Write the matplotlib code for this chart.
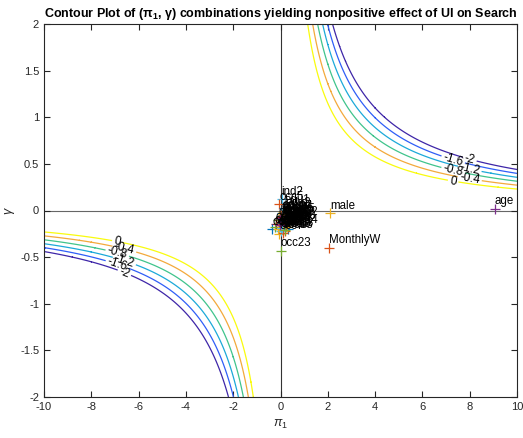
import numpy as np
import matplotlib
matplotlib.use("Agg")
import matplotlib.pyplot as plt

plt.rcParams["font.family"] = ["Liberation Sans", "DejaVu Sans"]
plt.rcParams["mathtext.fontset"] = "custom"
plt.rcParams["mathtext.rm"] = "Liberation Sans"
plt.rcParams["mathtext.it"] = "Liberation Sans:italic"
plt.rcParams["mathtext.bf"] = "Liberation Sans:bold"
plt.rcParams["axes.unicode_minus"] = False

# ---- data ----
levels = [-2.0, -1.6, -1.2, -0.8, -0.4, 0.0]
level_colors = ["#3e26a8", "#2f5ef7", "#1ca9d9", "#40c48c", "#f3a93c", "#f9fb0e"]
offset = 2.3      # pi1*gamma at the zero level
scale = 1.05      # pi1*gamma change per unit level

names = ["age", "MonthlyW", "male", "occ23", "ind2", "occ5", "edu1", "edu2", "edu3",
         "ind1", "ind3", "ind4", "ind5", "ind6", "ind7", "ind8", "ind9",
         "occ1", "occ2", "occ3", "occ4", "occ6", "occ7", "occ8", "occ9",
         "occ10", "occ11", "occ12", "occ13", "occ14", "occ15", "occ16", "occ17",
         "occ18", "occ19", "occ20", "occ21", "occ22", "edu4", "ind10",
         "ind11", "ind12", "edu5", "occ24", "occ25", "ind13"]
pi1 = [9.05, 2.05, 2.1, 0.0, 0.05, -0.05, 0.15, 0.2, 0.1,
       0.1, 0.25, 0.3, 0.15, 0.2, 0.05, 0.0, 0.25,
       -0.1, 0.05, 0.12, 0.3, 0.18, -0.05, 0.08, 0.22,
       0.0, -0.2, -0.35, 0.1, 0.28, 0.15, -0.25, 0.05,
       0.2, 0.12, 0.0, -0.1, 0.3, 0.18, 0.08,
       0.02, 0.15, 0.25, 0.1, -0.02, 0.2]
gamma = [0.02, -0.40, -0.03, -0.43, 0.12, 0.07, 0.03, 0.0, -0.02,
         -0.05, -0.08, -0.1, -0.12, -0.15, -0.18, -0.2, -0.05,
         -0.1, -0.13, -0.17, -0.2, -0.22, -0.25, -0.08, -0.12,
         -0.22, -0.15, -0.2, -0.24, -0.18, -0.06, -0.18, -0.03,
         -0.14, -0.09, -0.12, -0.2, -0.1, -0.16, -0.19,
         -0.07, -0.11, -0.14, -0.04, -0.16, -0.21]

matlab_colors = ["#0072bd", "#d95319", "#edb120", "#7e2f8e", "#77ac30", "#4dbeee", "#a2142f"]
point_colors = ["#7e2f8e", "#d95319", "#edb120", "#77ac30", "#4dbeee", "#d95319"] + \
    [matlab_colors[i % 7] for i in range(len(names) - 6)]

# ---- figure ----
fig = plt.figure(figsize=(5.23, 4.38), dpi=100)
ax = fig.add_axes([44/523, 41/438, 473/523, 373/438])

xs = np.linspace(-10, 10, 801)
ys = np.linspace(-2, 2, 801)
X, Y = np.meshgrid(xs, ys)
Z = (offset - X * Y) / scale
cs = ax.contour(X, Y, Z, levels=levels, colors=level_colors, linewidths=0.9)

manual = []
for lv, xr, xl in zip(levels, [8.0, 7.3, 8.0, 7.3, 8.0, 7.3], [-6.6, -6.9, -6.6, -6.9, -6.6, -6.9]):
    p = offset - lv * scale
    manual.append((xr, p / xr))
    manual.append((xl, p / xl))
ax.clabel(cs, levels=levels, inline=True, fontsize=8.5, fmt=lambda v: f"{v:g}",
          manual=manual, colors="black", inline_spacing=2)

ax.axhline(0, color="#666666", lw=0.8, zorder=1)
ax.axvline(0, color="#333333", lw=0.8, zorder=1)

for n, x, y, c in zip(names, pi1, gamma, point_colors):
    ax.plot(x, y, "+", color=c, ms=7, mew=0.9, zorder=3)
    ax.text(x, y + 0.015, n, fontsize=8.3, ha="left", va="bottom", color="black", zorder=4)

ax.set_xlim(-10, 10)
ax.set_ylim(-2, 2)
ax.set_xticks(np.arange(-10, 11, 2))
ax.set_yticks(np.arange(-2, 2.01, 0.5))
ax.set_yticklabels(["-2", "-1.5", "-1", "-0.5", "0", "0.5", "1", "1.5", "2"])
ax.tick_params(direction="in", length=4, labelsize=8, colors="#262626", top=True, right=True)
for s in ax.spines.values():
    s.set_linewidth(0.8)
    s.set_color("#262626")

ax.set_xlabel(r"$\pi_1$", fontsize=9, color="#262626", labelpad=4)
ax.set_ylabel(r"$\gamma$", fontsize=9, color="#262626", labelpad=2)
ax.set_title(r"Contour Plot of ($\mathbf{\pi_1}$, $\mathbf{\gamma}$) combinations yielding nonpositive effect of UI on Search",
             fontsize=9, fontweight="bold", pad=5)

fig.savefig("out.png", dpi=100)
